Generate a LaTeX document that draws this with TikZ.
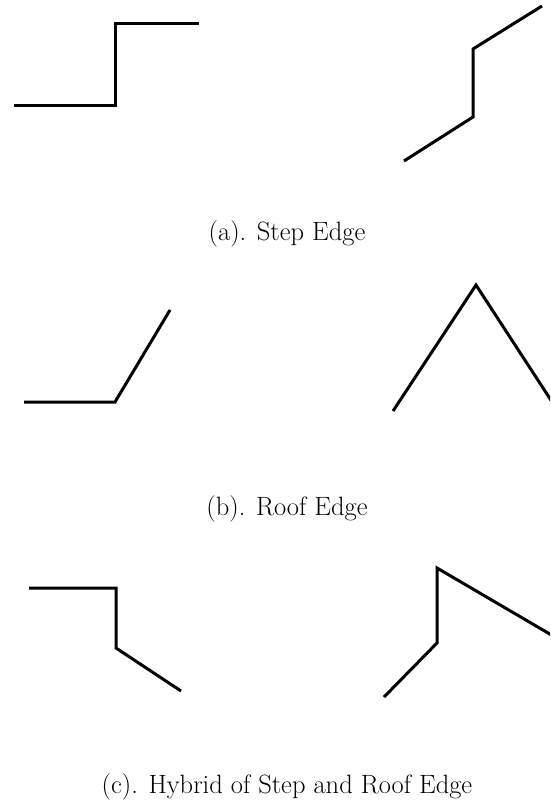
\documentclass[tikz,border=0pt]{standalone}
\begin{document}
\begin{tikzpicture}[x=1pt,y=-1pt,
  edgeline/.style={line width=3pt,line join=miter,line cap=butt},
  caption/.style={anchor=base,inner sep=0pt,font=\fontsize{26.5}{30}\selectfont}]
\useasboundingbox (0,0) rectangle (550,805);
\begin{scope}
\clip (0,0) rectangle (550,805);
% (a) Step edge
\draw[edgeline] (14,106) -- (115,106) -- (115,24) -- (199,24);
\draw[edgeline] (404,161) -- (473,117) -- (473,49) -- (542,6);
% (b) Roof edge
\draw[edgeline] (24,402) -- (115,402) -- (170,310);
\draw[edgeline] (393,411) -- (476,285) -- (558,411);
% (c) Hybrid
\draw[edgeline] (29,588) -- (116,588) -- (116,648) -- (181,691);
\draw[edgeline] (384,697) -- (437,643) -- (437,568) -- (560,640);
\end{scope}
\node[caption] (ca) at (287,240) {(a). Step Edge};
\node[caption] (cb) at (287,515) {(b). Roof Edge};
\node[caption] (cc) at (287,793) {(c). Hybrid of Step and Roof Edge};
\end{tikzpicture}
\end{document}
